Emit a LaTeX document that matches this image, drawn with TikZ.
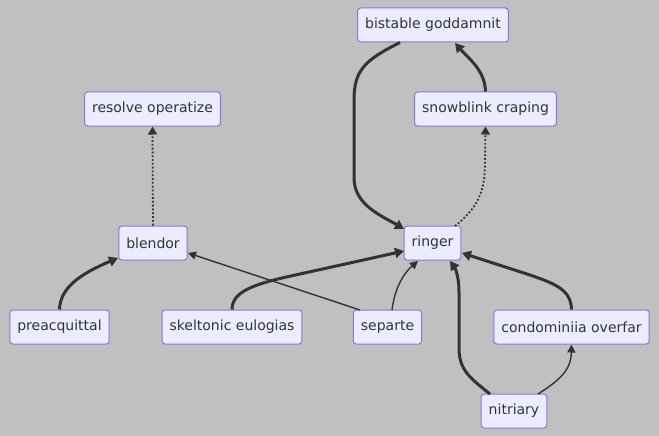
\documentclass[tikz,border=0pt]{standalone}
\usepackage{fontspec}
\setmainfont{DejaVu Sans}
\usetikzlibrary{arrows.meta}

\definecolor{bgcol}{HTML}{C0C0C0}
\definecolor{nodefill}{HTML}{ECECFF}
\definecolor{nodeedge}{HTML}{9370DB}
\definecolor{inkcol}{HTML}{333333}

\begin{document}
\begin{tikzpicture}[
    x=1pt, y=-1pt,
    font=\fontsize{14}{16}\selectfont,
    box/.style={
        draw=nodeedge, fill=nodefill, text=inkcol, line width=1pt,
        rounded corners=3pt, minimum height=34pt, inner xsep=7.5pt
    },
    link/.style={draw=inkcol, line width=1.4pt, -{Triangle[length=8pt, width=8pt]}},
    heavy/.style={link, line width=3pt, -{Triangle[length=9pt, width=10pt]}},
    faint/.style={link, line width=1.8pt, dotted, -{Triangle[length=8pt, width=9pt]}}
]

% -- canvas --
\fill[bgcol] (0,0) rectangle (659,436);
\useasboundingbox (0,0) rectangle (659,436);

% -- top rows --
\node[box] (bistable) at (433,25) {bistable goddamnit};
\node[box] (snowblink) at (485.5,109) {snowblink craping};
\node[box] (resolve) at (152.5,109) {resolve operatize};

% -- middle row --
\node[box] (blendor) at (153,243) {blendor};
\node[box] (ringer) at (432.5,243) {ringer};

% -- bottom rows --
\node[box] (preacq) at (59.5,327) {preacquittal};
\node[box] (skeltonic) at (232,327) {skeltonic eulogias};
\node[box] (separte) at (387.5,327) {separte};
\node[box] (condo) at (571.5,327) {condominiia overfar};
\node[box] (nitriary) at (514,411) {nitriary};

% -- upper links --
\draw[heavy] (snowblink.north) .. controls (485,70) and (468,58) .. (455,43);
\draw[heavy] ([xshift=-33pt]bistable.south) .. controls (365,60) and (354,70) .. (354,100)
    -- (354,178) .. controls (354,205) and (382,216) .. (404,229);
\draw[faint] (455,226) .. controls (482,205) and (485,185) .. (485,162) -- (snowblink.south);
\draw[faint] (blendor.north) -- (resolve.south);

% -- into blendor --
\draw[heavy] (preacq.north) .. controls (60,288) and (80,274) .. (118,258);
\draw[link] (360,310) -- (188,253);

% -- into ringer --
\draw[heavy] (skeltonic.north) .. controls (232,290) and (258,283) .. (300,274) -- (404,251);
\draw[link] (392,310) .. controls (395,286) and (405,272) .. (418,261);
\draw[heavy] (490,394) .. controls (470,378) and (459,370) .. (459,348)
    -- (459,292) .. controls (459,276) and (455,268) .. (450,261);
\draw[heavy] (condo.north) .. controls (571,290) and (556,284) .. (530,275) -- (462,253);
\draw[link] (538,394) .. controls (560,380) and (571,370) .. (condo.south);

\end{tikzpicture}
\end{document}
